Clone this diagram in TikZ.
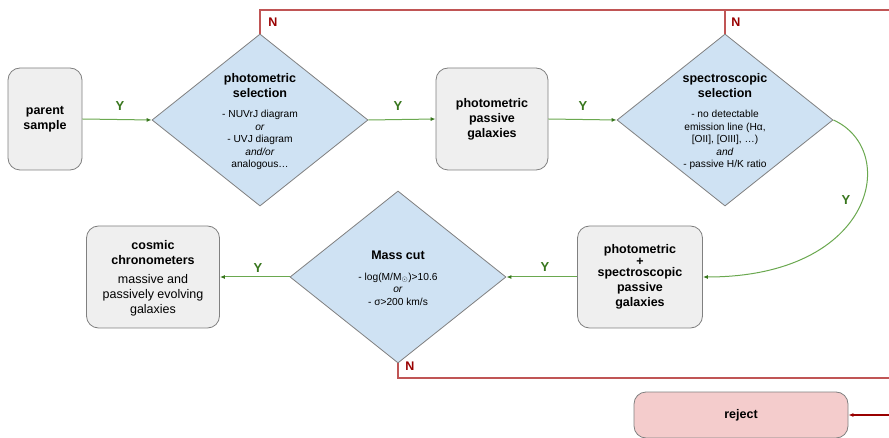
\documentclass[tikz,border=0pt]{standalone}
\usepackage{fontspec}
\setmainfont{Liberation Sans}
\usetikzlibrary{shapes.geometric,arrows.meta}
\definecolor{boxfill}{HTML}{EFEFEF}
\definecolor{decfill}{HTML}{CFE2F3}
\definecolor{rejfill}{HTML}{F4CCCC}
\definecolor{yesgreen}{HTML}{38761D}
\definecolor{yesline}{HTML}{6AA84F}
\definecolor{nored}{HTML}{C05555}
\definecolor{nodark}{HTML}{990000}
\definecolor{edgegray}{HTML}{808080}

\begin{document}
\begin{tikzpicture}[x=1pt,y=-1pt,
  box/.style={draw=edgegray, fill=boxfill, rounded corners=12pt, line width=0.8pt, align=center, inner sep=0pt, font=\bfseries\fontsize{12.5}{15}\selectfont},
  decision/.style={diamond, draw=edgegray, fill=decfill, line width=0.8pt, minimum width=216pt, minimum height=172pt, inner sep=0pt},
  title/.style={align=center, inner sep=0pt, font=\bfseries\fontsize{12.5}{15}\selectfont},
  body/.style={align=center, inner sep=0pt, font=\fontsize{10.2}{12.5}\selectfont},
  yesarrow/.style={draw=yesline, line width=1pt, -{Latex[length=5pt,width=4pt,color=yesgreen]}},
  noline/.style={draw=nored, line width=1.1pt},
  yeslabel/.style={text=yesgreen, inner sep=0pt, font=\bfseries\fontsize{13}{13}\selectfont},
  nolabel/.style={text=nodark, inner sep=0pt, font=\bfseries\fontsize{12.5}{12.5}\selectfont}]
\clip (0,0) rectangle (889,438);
\fill[white] (0,0) rectangle (889,438);

\node[box, minimum width=74pt, minimum height=102pt] (parent) at (45,119) {parent\\sample};
\node[decision] (photsel) at (260,120) {};
\node[title] (photsel-title) at (260,86) {photometric\\selection};
\node[body] (photsel-body) at (260,140) {- NUVrJ diagram\\\textit{or}\\- UVJ diagram\\\textit{and/or}\\analogous\dots};
\node[box, minimum width=112pt, minimum height=102pt] (photpass) at (492,119) {photometric\\passive\\galaxies};
\node[decision] (specsel) at (725,120) {};
\node[title] (specsel-title) at (725,86) {spectroscopic\\selection};
\node[body] (specsel-body) at (725,140) {- no detectable\\emission line (Hα,\\{[OII], [OIII], \dots)}\\\textit{and}\\- passive H/K ratio};
\node[box, minimum width=125pt, minimum height=102pt] (bothpass) at (640,277) {photometric\\[-3.5pt]+\\[-3.5pt]spectroscopic\\passive\\galaxies};
\node[decision] (masscut) at (398,277) {};
\node[title] (masscut-title) at (398,255) {Mass cut};
\node[body] (masscut-body) at (398,289) {- log(M/M$_\odot$)>10.6\\\textit{or}\\- σ>200 km/s};
\node[box, minimum width=133pt, minimum height=102pt] (cc) at (153,277) {};
\node[title] (cc-title) at (153,253) {cosmic\\chronometers};
\node[align=center, inner sep=0pt, font=\fontsize{12.5}{15}\selectfont] (cc-body) at (153,295) {massive and\\passively evolving\\galaxies};
\node[box, fill=rejfill, minimum width=214pt, minimum height=46pt] (reject) at (741,415) {};
\node[title] (reject-title) at (741,415) {reject};

\coordinate (topexit) at (889,10);
\coordinate (lowexit) at (889,378);
\coordinate (rejin) at (889,415);

\draw[yesarrow] (parent.east) -- (photsel.west);
\draw[yesarrow] (photsel.east) -- (photpass.west);
\draw[yesarrow] (photpass.east) -- (specsel.west);
\draw[yesarrow] (specsel.east) .. controls (900,150) and (875,277) .. (bothpass.east);
\draw[yesarrow] (bothpass.west) -- (masscut.east);
\draw[yesarrow] (masscut.west) -- (cc.east);
\node[yeslabel] (y1) at (120,106) {Y};
\node[yeslabel] (y2) at (398,106) {Y};
\node[yeslabel] (y3) at (583,106) {Y};
\node[yeslabel] (y4) at (846,200) {Y};
\node[yeslabel] (y5) at (545,267) {Y};
\node[yeslabel] (y6) at (258,268) {Y};

\draw[noline] (photsel.north) |- (topexit);
\draw[noline] (specsel.north) -- (specsel.north |- topexit);
\draw[noline] (masscut.south) |- (lowexit);
\draw[noline, draw=nodark, -{Latex[length=5pt,width=4pt]}] (rejin) -- (reject.east);
\node[nolabel] (n1) at (273,22) {N};
\node[nolabel] (n2) at (736,22) {N};
\node[nolabel] (n3) at (410,366) {N};
\end{tikzpicture}
\end{document}
